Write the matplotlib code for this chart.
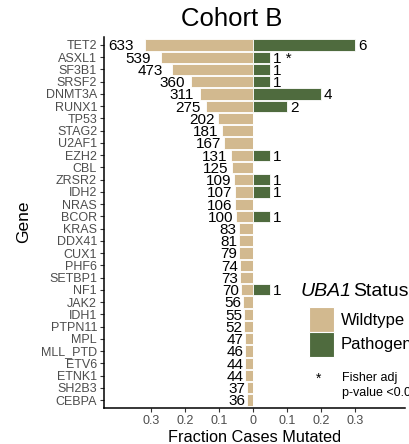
import matplotlib
matplotlib.use("Agg")
import matplotlib.pyplot as plt
from matplotlib.patches import Rectangle
import numpy as np

plt.rcParams['font.family'] = ['Liberation Sans', 'DejaVu Sans']

genes = ["TET2", "ASXL1", "SF3B1", "SRSF2", "DNMT3A", "RUNX1", "TP53", "STAG2", "U2AF1",
         "EZH2", "CBL", "ZRSR2", "IDH2", "NRAS", "BCOR", "KRAS", "DDX41", "CUX1", "PHF6",
         "SETBP1", "NF1", "JAK2", "IDH1", "PTPN11", "MPL", "MLL_PTD", "ETV6", "ETNK1",
         "SH2B3", "CEBPA"]
wt_counts = [633, 539, 473, 360, 311, 275, 202, 181, 167, 131, 125, 109, 107, 106, 100,
             83, 81, 79, 74, 73, 70, 56, 55, 52, 47, 46, 44, 44, 37, 36]
path_counts = [6, 1, 1, 1, 4, 2, 0, 0, 0, 1, 0, 1, 1, 0, 1, 0, 0, 0, 0, 0, 1, 0, 0, 0,
               0, 0, 0, 0, 0, 0]
significant = ["ASXL1"]
wt_total = 1990
path_total = 20
xticks = [-0.3, -0.2, -0.1, 0, 0.1, 0.2, 0.3]
xticklabels = ["0.3", "0.2", "0.1", "0", "0.1", "0.2", "0.3"]

tan = "#D2B98F"
green = "#4F6B3E"

W, H = 409, 444
fig = plt.figure(figsize=(W / 100, H / 100), dpi=100)

def fx(px):
    return px / W

def fy(py):
    return 1 - py / H

ax = fig.add_axes([fx(104), fy(408), fx(405) - fx(104), fy(37) - fy(408)])

y = np.arange(len(genes))
wt_frac = np.array(wt_counts) / wt_total
path_frac = np.array(path_counts) / path_total

ax.barh(y, -wt_frac, height=0.92, color=tan, edgecolor="white", linewidth=0.6)
ax.barh(y, path_frac, height=0.92, color=green, edgecolor="white", linewidth=0.6)

for i, g in enumerate(genes):
    ax.annotate(str(wt_counts[i]), xy=(-wt_frac[i] * 1.1, y[i]), xytext=(-0.5, -1),
                textcoords="offset points", ha="right", va="center", fontsize=11,
                color="black")
    if path_counts[i] > 0:
        lab = str(path_counts[i]) + (" *" if g in significant else "")
        ax.annotate(lab, xy=(path_frac[i], y[i]), xytext=(2, -1),
                    textcoords="offset points", ha="left", va="center", fontsize=11,
                    color="black")

ax.set_ylim(len(genes) - 0.35, -0.65)
ax.set_xlim(-0.438, 0.447)
ax.set_yticks(y)
ax.set_yticklabels(genes, fontsize=9, color="#4D4D4D")
ax.set_xticks(xticks)
ax.set_xticklabels(xticklabels, fontsize=9, color="#4D4D4D")
ax.tick_params(axis="both", length=3, width=0.8, color="#333333", pad=2)
for s in ["top", "right"]:
    ax.spines[s].set_visible(False)
for s in ["left", "bottom"]:
    ax.spines[s].set_linewidth(1.1)
    ax.spines[s].set_color("black")

ax.set_xlabel("Fraction Cases Mutated", fontsize=11.7, labelpad=2)
fig.text(fx(24), fy(222), "Gene", rotation=90, fontsize=12.5, ha="center", va="center")
fig.text(fx(232), fy(19), "Cohort B", fontsize=18.5, ha="center", va="center")

# legend
fig.text(fx(301), fy(291), "UBA1", fontsize=14, style="italic", ha="left", va="center")
fig.text(fx(353), fy(291), "Status", fontsize=14, ha="left", va="center")
leg_items = [("Wildtype", tan, 307), ("Pathogenic", green, 332)]
for lab, col, top in leg_items:
    fig.add_artist(Rectangle((fx(309), fy(top + 25)), fx(25), fy(top) - fy(top + 25),
                             transform=fig.transFigure, facecolor=col, edgecolor="white",
                             linewidth=0.8))
    fig.text(fx(341), fy(top + 13), lab, fontsize=12, ha="left", va="center")
fig.text(fx(319), fy(379), "*", fontsize=10, ha="center", va="center")
fig.text(fx(342), fy(378), "Fisher adj", fontsize=9, ha="left", va="center")
fig.text(fx(342), fy(393), "p-value <0.05", fontsize=9, ha="left", va="center")

fig.savefig("out.png", dpi=100)
